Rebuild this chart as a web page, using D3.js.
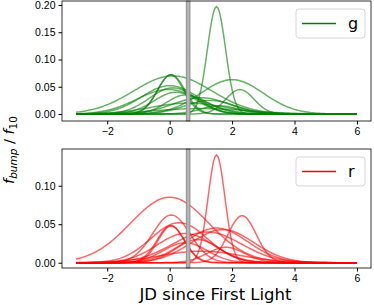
<!DOCTYPE html>
<html>
<head>
<meta charset="utf-8">
<script src="https://cdn.jsdelivr.net/npm/d3@7"></script>
<style>
  body { margin: 0; background: #fff; }
  svg { font-family: "DejaVu Sans", sans-serif; }
  .tick text { font-size: 10.5px; fill: #000; }
</style>
</head>
<body>
<script>
// bump parameters: amplitude, centre (days), width (days)
var gAmp   = [0.197, 0.063, 0.045, 0.070, 0.072, 0.072, 0.052, 0.048, 0.045, 0.040, 0.035, 0.030, 0.025, 0.020, 0.015, 0.010];
var gMu    = [1.50,  2.00,  2.25,  0.10,  0.03,  0.05,  0.00,  0.10, -0.05,  0.20,  0.50,  1.00,  1.30,  0.60,  1.60,  1.00];
var gSigma = [0.29,  1.00,  0.45,  1.25,  0.42,  0.44,  0.90,  0.75,  1.00,  0.70,  0.60,  0.90,  0.80,  1.20,  0.60,  1.50];

var rAmp   = [0.140, 0.085, 0.062, 0.052, 0.048, 0.048, 0.061, 0.045, 0.043, 0.040, 0.038, 0.030, 0.026, 0.020, 0.015];
var rMu    = [1.50,  0.00,  0.05,  0.30,  0.05,  0.03,  2.32,  1.50,  1.70,  1.20,  0.50,  0.90,  0.50,  1.80,  1.00];
var rSigma = [0.27,  1.25,  0.60,  0.90,  0.42,  0.44,  0.45,  1.00,  1.00,  1.10,  0.90,  0.70,  0.70,  0.60,  1.30];

var xStart = -3, xEnd = 6, xStep = 0.05;
var firstLightBand = [0.53, 0.65];
var xTicks = [-2, 0, 2, 4, 6];
var gTicks = [0, 0.05, 0.10, 0.15, 0.20];
var rTicks = [0, 0.05, 0.10];

var W = 374, H = 305;
var left = 62, right = 371;

var svg = d3.select("body").append("svg")
    .attr("width", W)
    .attr("height", H);

var x = d3.scaleLinear().domain([-3.45, 6.45]).range([left, right]);
var xs = d3.range(xStart, xEnd + xStep / 2, xStep);

function bump(a, m, s) {
    return xs.map(function(t) { return {x: t, y: a * Math.exp(-(t - m) * (t - m) / (2 * s * s))}; });
}

function panel(top, bottom, yDomain, ticks, amps, mus, sigmas, color, label) {
    var y = d3.scaleLinear().domain(yDomain).range([bottom, top]);
    var g = svg.append("g");

    var line = d3.line()
        .x(function(d) { return x(d.x); })
        .y(function(d) { return y(d.y); });

    amps.forEach(function(a, i) {
        g.append("path")
            .datum(bump(a, mus[i], sigmas[i]))
            .attr("fill", "none")
            .attr("stroke", color)
            .attr("stroke-opacity", 0.6)
            .attr("stroke-width", 1.5)
            .attr("d", line);
    });

    // first light band
    g.append("rect")
        .attr("x", x(firstLightBand[0]))
        .attr("width", x(firstLightBand[1]) - x(firstLightBand[0]))
        .attr("y", top)
        .attr("height", bottom - top)
        .attr("fill", "#b4b4b4")
        .attr("stroke", "#808080")
        .attr("stroke-width", 0.8);

    // frame
    g.append("rect")
        .attr("x", left).attr("y", top)
        .attr("width", right - left).attr("height", bottom - top)
        .attr("fill", "none").attr("stroke", "#000").attr("stroke-width", 0.8);

    g.append("g")
        .attr("transform", "translate(0," + bottom + ")")
        .call(d3.axisBottom(x).tickValues(xTicks).tickSize(3.5).tickPadding(3)
            .tickFormat(function(d) { return d < 0 ? "\u2212" + Math.abs(d) : d; }))
        .call(function(a) { a.select(".domain").remove(); });

    g.append("g")
        .attr("transform", "translate(" + left + ",0)")
        .call(d3.axisLeft(y).tickValues(ticks).tickSize(3.5).tickPadding(3).tickFormat(d3.format(".2f")))
        .call(function(a) { a.select(".domain").remove(); });

    // legend
    var lx = right - 75, ly = top + 8;
    g.append("rect")
        .attr("x", lx).attr("y", ly).attr("width", 69).attr("height", 29)
        .attr("rx", 3).attr("fill", "#fff").attr("fill-opacity", 0.8)
        .attr("stroke", "#ccc").attr("stroke-width", 0.8);
    g.append("line")
        .attr("x1", lx + 6).attr("x2", lx + 40)
        .attr("y1", ly + 14.5).attr("y2", ly + 14.5)
        .attr("stroke", color).attr("stroke-width", 1.5);
    g.append("text")
        .attr("x", lx + 52).attr("y", ly + 19.5)
        .attr("font-size", 16)
        .text(label);
}

panel(1, 121, [-0.0128, 0.2073], gTicks, gAmp, gMu, gSigma, "green", "g");
panel(149, 268, [-0.0069, 0.1477], rTicks, rAmp, rMu, rSigma, "red", "r");

svg.append("text")
    .attr("x", (left + right) / 2 - 1)
    .attr("y", 300)
    .attr("text-anchor", "middle")
    .attr("font-size", 16.5)
    .text("JD since First Light");

var yl = svg.append("text")
    .attr("transform", "translate(14,150) rotate(-90)")
    .attr("text-anchor", "middle")
    .attr("font-size", 14.5);
yl.append("tspan").attr("font-style", "italic").text("f");
yl.append("tspan").attr("font-style", "italic").attr("font-size", 10.5).attr("dy", 3).text("bump");
yl.append("tspan").attr("dy", -3).text(" / ");
yl.append("tspan").attr("font-style", "italic").text("f");
yl.append("tspan").attr("font-size", 10.5).attr("dy", 3).text("10");
</script>
</body>
</html>
